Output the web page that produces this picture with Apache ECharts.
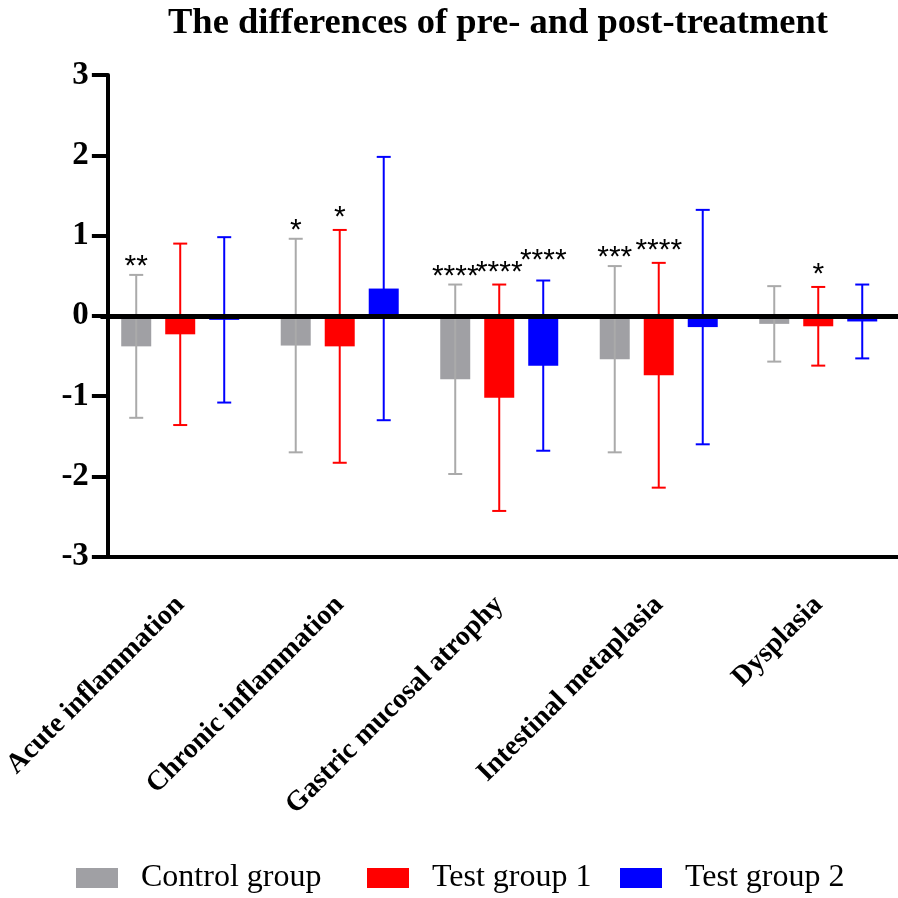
<!DOCTYPE html>
<html><head><meta charset="utf-8">
<script src="https://cdn.jsdelivr.net/npm/echarts@6/dist/echarts.min.js"></script>
<style>html,body{margin:0;padding:0;background:#fff}#c{width:898px;height:898px}</style>
</head><body><div id="c"></div>
<script>
const categories = ['Acute inflammation','Chronic inflammation','Gastric mucosal atrophy','Intestinal metaplasia','Dysplasia'];
const seriesNames = ['Control group','Test group 1','Test group 2'];
const controlMean = [-0.38,-0.37,-0.79,-0.54,-0.10];
const controlSD   = [0.89, 1.33, 1.18, 1.16, 0.47];
const test1Mean   = [-0.23,-0.38,-1.02,-0.74,-0.13];
const test1SD     = [1.13, 1.45, 1.41, 1.40, 0.49];
const test2Mean   = [-0.05, 0.34,-0.62,-0.14,-0.07];
const test2SD     = [1.03, 1.64, 1.06, 1.46, 0.46];
const controlSig  = ['**','*','****','***',''];
const test1Sig    = ['','*','****','****','*'];
const test2Sig    = ['','','****','',''];
const yTicks = [-3,-2,-1,0,1,2,3];

const BAR_W = 30, BAR_GAP = 14, CAP = 14;
const STAR_OFF = [8, 12, 20];
const colors = ['#a0a0a4','#ff0000','#0000ff'];
const errColors = ['#aaaaaa','#ff0000','#0000ff'];
const means = [controlMean, test1Mean, test2Mean];
const sds = [controlSD, test1SD, test2SD];
const sigs = [controlSig, test1Sig, test2Sig];
const SERIF = '"Liberation Serif", "Times New Roman", serif';

function barSeries(k){
  const s = {
    type:'bar', name: seriesNames[k], data: means[k],
    barWidth: BAR_W, barGap: (BAR_GAP/BAR_W*100)+'%',
    itemStyle:{color: colors[k]}, z: 2
  };
  if (k === 0) {
    s.markLine = {silent:true, symbol:'none', z: 10,
      label:{show:false},
      lineStyle:{color:'#000', width:5, type:'solid'},
      data:[{yAxis:0}]};
  }
  return s;
}
function errSeries(k){
  return {
    type:'custom', name:'err'+k, z: 4, silent:true,
    data: means[k].map((m,i)=>[i, m, sds[k][i]]),
    encode:{x:0, y:1},
    renderItem: function(params, api){
      const i = api.value(0), m = api.value(1), sd = api.value(2);
      const off = (k-1)*(BAR_W+BAR_GAP);
      const top = api.coord([i, m+sd]);
      const bot = api.coord([i, m-sd]);
      const x = top[0] + off;
      const st = {stroke: errColors[k], lineWidth: 2};
      const children = [
        {type:'line', shape:{x1:x, y1:top[1], x2:x, y2:bot[1]}, style:st},
        {type:'line', shape:{x1:x-CAP/2, y1:top[1], x2:x+CAP/2, y2:top[1]}, style:st},
        {type:'line', shape:{x1:x-CAP/2, y1:bot[1], x2:x+CAP/2, y2:bot[1]}, style:st}
      ];
      const sg = sigs[k][params.dataIndex];
      if (sg) children.push({type:'text', style:{text: sg, x: x, y: top[1]-STAR_OFF[k],
        align:'center', verticalAlign:'middle', fill:'#000',
        font:'30px "Liberation Sans", Arial, sans-serif'}});
      return {type:'group', children};
    }
  };
}
const legendLefts = [71, 362, 615];
const chart = echarts.init(document.getElementById('c'), null, {renderer:'canvas'});
chart.setOption({
  animation:false,
  backgroundColor:'#fff',
  title:{text:'The differences of pre- and post-treatment', left:163, top:0,
    textStyle:{fontFamily:SERIF, fontWeight:'bold', fontSize:36.5, color:'#000'}},
  legend: seriesNames.map((n,k)=>({data:[n], left:legendLefts[k], top:857, itemWidth:42, itemHeight:20, icon:'rect',
    textStyle:{fontFamily:SERIF, fontSize:32, color:'#000', padding:[0,0,0,18]}})),
  grid:{left:96.6, top:75, width:803.75, height:481.7, containLabel:false},
  xAxis:{type:'category', data: categories,
    axisLine:{onZero:false, lineStyle:{color:'#000', width:4}},
    axisTick:{alignWithLabel:true, length:16, lineStyle:{color:'#000', width:4}},
    axisLabel:{interval:0, rotate:45, margin:44, color:'#000',
      fontFamily:SERIF, fontWeight:'bold', fontSize:28}},
  yAxis:{type:'value', min: yTicks[0], max: yTicks[yTicks.length-1], interval:1, offset:-7.4,
    axisLine:{show:true, lineStyle:{color:'#000', width:4}},
    axisTick:{show:true, length:16, lineStyle:{color:'#000', width:4}},
    splitLine:{show:false},
    axisLabel:{margin:19, color:'#000', fontFamily:SERIF, fontWeight:'bold', fontSize:33}},
  series:[barSeries(0), barSeries(1), barSeries(2), errSeries(0), errSeries(1), errSeries(2)]
});
</script></body></html>
